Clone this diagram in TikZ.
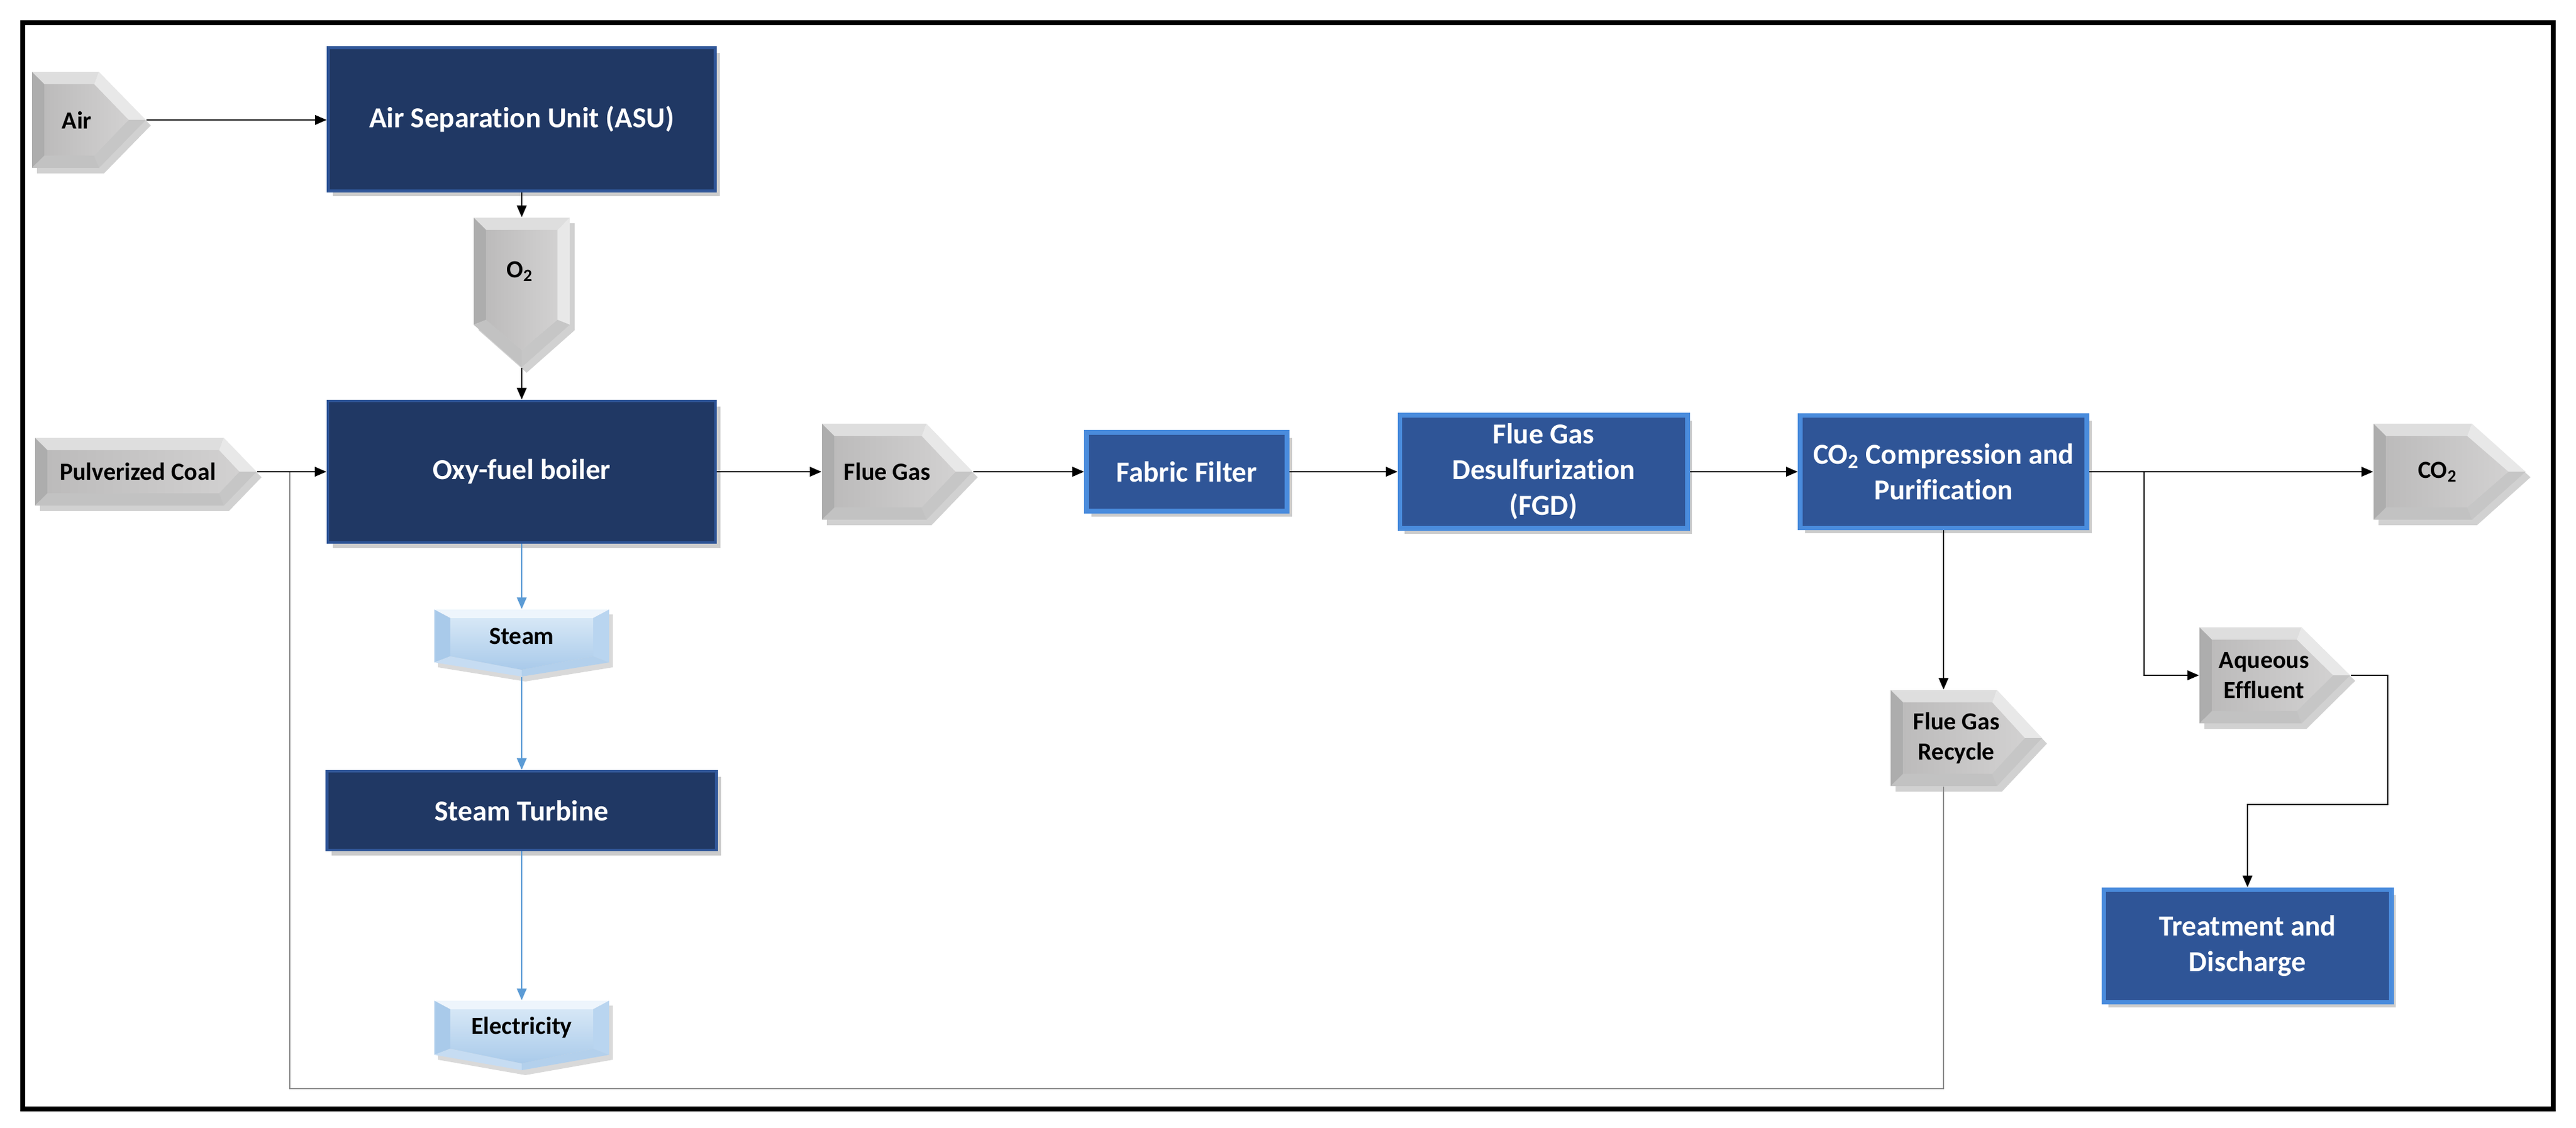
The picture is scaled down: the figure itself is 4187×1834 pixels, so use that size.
\documentclass[tikz,border=0pt]{standalone}
\usepackage{fontspec}
\setmainfont{Carlito}[Ligatures=NoCommon]
\usetikzlibrary{arrows.meta,shadows,calc}
\definecolor{navy}{HTML}{203864}
\definecolor{navyedge}{HTML}{2F5597}
\definecolor{midblue}{HTML}{2F5597}
\definecolor{midedge}{HTML}{4A8CDD}
\definecolor{flowblue}{HTML}{5B9BD5}
\definecolor{recgray}{HTML}{8C8C8C}
\definecolor{gTop}{HTML}{DEDEDE}
\definecolor{gUR}{HTML}{E8E8E8}
\definecolor{gLR}{HTML}{C6C6C6}
\definecolor{gBot}{HTML}{C2C2C2}
\definecolor{gLeft}{HTML}{ADADAD}
\definecolor{gCl}{HTML}{BCBBBB}
\definecolor{gCr}{HTML}{D2D1D1}
\definecolor{bTop}{HTML}{EEF5FC}
\definecolor{bLeft}{HTML}{A9CAEA}
\definecolor{bRight}{HTML}{B9D5F0}
\definecolor{bBotL}{HTML}{C6DCF2}
\definecolor{bBotR}{HTML}{B3D0EC}
\definecolor{bCt}{HTML}{D6E7F6}
\definecolor{bCb}{HTML}{A9CAEA}

% right-pointing grey pentagon: name, x0, y0, x-rect-right, y1, x-tip
\newcommand\PentR[6]{%
  \pgfmathsetmacro\pYm{(#3+#5)/2}%
  \pgfmathsetmacro\pXa{#2+20}%
  \pgfmathsetmacro\pYa{#3+20}%
  \pgfmathsetmacro\pYb{#5-20}%
  \pgfmathsetmacro\pXr{#4-8}%
  \pgfmathsetmacro\pXt{#6-28}%
  \pgfmathsetmacro\pXc{(#2+#6)/2}%
  \pgfmathsetmacro\pW{(#6-#2)/100}%
  \pgfmathsetmacro\pH{(#5-#3)/100}%
  \begin{scope}[shift={(8,9)}]
    \fill[black,opacity=0.18] (#2,#3) -- (#4,#3) -- (#6,\pYm) -- (#4,#5) -- (#2,#5) -- cycle;
  \end{scope}
  \fill[gTop] (#2,#3) -- (#4,#3) -- (\pXr,\pYa) -- (\pXa,\pYa) -- cycle;
  \fill[gUR] (#4,#3) -- (#6,\pYm) -- (\pXt,\pYm) -- (\pXr,\pYa) -- cycle;
  \fill[gLR] (#6,\pYm) -- (#4,#5) -- (\pXr,\pYb) -- (\pXt,\pYm) -- cycle;
  \fill[gBot] (#4,#5) -- (#2,#5) -- (\pXa,\pYb) -- (\pXr,\pYb) -- cycle;
  \fill[gLeft] (#2,#5) -- (#2,#3) -- (\pXa,\pYa) -- (\pXa,\pYb) -- cycle;
  \shade[left color=gCl,right color=gCr] (\pXa,\pYa) -- (\pXr,\pYa) -- (\pXt,\pYm) -- (\pXr,\pYb) -- (\pXa,\pYb) -- cycle;
  \node[inner sep=0pt, minimum width=\pW cm, minimum height=\pH cm] (#1) at (\pXc,\pYm) {};
}

% down-pointing light-blue chevron: name, x0, y0, x1, y-rect-bottom, y-tip
\newcommand\ChevD[6]{%
  \pgfmathsetmacro\cXm{(#2+#4)/2}%
  \pgfmathsetmacro\cXa{#2+26}%
  \pgfmathsetmacro\cXb{#4-26}%
  \pgfmathsetmacro\cYa{#3+14}%
  \pgfmathsetmacro\cYr{#5-10}%
  \pgfmathsetmacro\cYt{#6-11}%
  \pgfmathsetmacro\cYc{(#3+#6)/2}%
  \pgfmathsetmacro\cW{(#4-#2)/100}%
  \pgfmathsetmacro\cH{(#6-#3)/100}%
  \begin{scope}[shift={(6,8)}]
    \fill[black,opacity=0.15] (#2,#3) -- (#4,#3) -- (#4,#5) -- (\cXm,#6) -- (#2,#5) -- cycle;
  \end{scope}
  \fill[bTop] (#2,#3) -- (#4,#3) -- (\cXb,\cYa) -- (\cXa,\cYa) -- cycle;
  \fill[bLeft] (#2,#3) -- (\cXa,\cYa) -- (\cXa,\cYr) -- (#2,#5) -- cycle;
  \fill[bRight] (#4,#3) -- (#4,#5) -- (\cXb,\cYr) -- (\cXb,\cYa) -- cycle;
  \fill[bBotL] (#2,#5) -- (\cXa,\cYr) -- (\cXm,\cYt) -- (\cXm,#6) -- cycle;
  \fill[bBotR] (#4,#5) -- (\cXm,#6) -- (\cXm,\cYt) -- (\cXb,\cYr) -- cycle;
  \shade[top color=bCt,bottom color=bCb] (\cXa,\cYa) -- (\cXb,\cYa) -- (\cXb,\cYr) -- (\cXm,\cYt) -- (\cXa,\cYr) -- cycle;
  \node[inner sep=0pt, minimum width=\cW cm, minimum height=\cH cm] (#1) at (\cXm,\cYc) {};
}

\tikzset{
  boxshadow/.style={drop shadow={shadow xshift=2.2pt, shadow yshift=-2.5pt, opacity=0.2, fill=black}},
  darkbox/.style={draw=navyedge, line width=1.3pt, fill=navy, text=white,
    font=\bfseries\fontsize{13.4}{16.5}\selectfont, align=center, inner sep=0pt, boxshadow},
  midbox/.style={draw=midedge, line width=2.2pt, fill=midblue, text=white,
    font=\bfseries\fontsize{13.4}{16.5}\selectfont, align=center, inner sep=0pt, boxshadow},
  lbl/.style={font=\bfseries\fontsize{11.4}{14}\selectfont, align=center, inner sep=0pt, text=black},
  arr/.style={draw=black, line width=0.8pt, -{Triangle[length=5.4pt,width=4.4pt]}},
  barr/.style={draw=flowblue, line width=0.8pt, -{Triangle[length=5.4pt,width=4.4pt]}},
  recy/.style={draw=recgray, line width=0.7pt},
}

\begin{document}
\begin{tikzpicture}[x=0.01cm, y=-0.01cm]
\useasboundingbox (0,0) rectangle (4187,1834);
\fill[white] (0,0) rectangle (4187,1834);
\draw[line width=2.2pt] (37,37) rectangle (4150,1803);

% process boxes
\node[darkbox, minimum width=6.29cm, minimum height=2.33cm] (asu) at (848,194) {Air Separation Unit (ASU)};
\node[darkbox, minimum width=6.30cm, minimum height=2.30cm] (boiler) at (848,767) {Oxy-fuel boiler};
\node[darkbox, minimum width=6.33cm, minimum height=1.28cm] (turb) at (848,1318) {Steam Turbine};
\node[midbox, minimum width=3.26cm, minimum height=1.28cm] (ff) at (1929,767) {Fabric Filter};
\node[midbox, minimum width=4.67cm, minimum height=1.84cm] (fgd) at (2509,767) {Flue Gas\\Desulfurization\\(FGD)};
\node[midbox, minimum width=4.66cm, minimum height=1.83cm] (cp) at (3159,767) {CO\textsubscript{2} Compression and\\Purification};
\node[midbox, minimum width=4.67cm, minimum height=1.83cm] (treat) at (3653,1538) {Treatment and\\Discharge};

% grey stream pentagons
\PentR{air}{52}{117}{161}{273}{237}
\node[lbl] (airT) at (125,195) {Air};
\PentR{coal}{57}{712}{364}{822}{417}
\node[lbl] (coalT) at (224,767) {Pulverized Coal};
\PentR{flue}{1336}{689}{1506}{845}{1581}
\node[lbl] (flueT) at (1442,767) {Flue Gas};
\PentR{co2}{3858}{689}{4018}{845}{4105}
\node[lbl] (co2T) at (3962,767) {CO\textsubscript{2}};
\PentR{aq}{3575}{1020}{3741}{1176}{3820}
\node[lbl] (aqT) at (3680,1098) {Aqueous\\Effluent};
\PentR{fgr}{3073}{1122}{3246}{1278}{3319}
\node[lbl] (fgrT) at (3180,1200) {Flue Gas\\Recycle};

% O2 down chevron
\begin{scope}[shift={(8,9)}]
  \fill[black,opacity=0.18] (770,354) -- (926,354) -- (926,528) -- (848,597) -- (770,528) -- cycle;
\end{scope}
\fill[gTop] (770,354) -- (926,354) -- (906,374) -- (790,374) -- cycle;
\fill[gLeft] (770,354) -- (790,374) -- (790,520) -- (770,528) -- cycle;
\fill[gUR] (926,354) -- (926,528) -- (906,520) -- (906,374) -- cycle;
\fill[gBot] (770,528) -- (790,520) -- (848,569) -- (848,597) -- cycle;
\fill[gLR] (926,528) -- (848,597) -- (848,569) -- (906,520) -- cycle;
\shade[left color=gCl,right color=gCr] (790,374) -- (906,374) -- (906,520) -- (848,569) -- (790,520) -- cycle;
\node[inner sep=0pt, minimum width=1.56cm, minimum height=2.43cm] (o2) at (848,475.5) {};
\node[lbl] (o2T) at (845,441) {O\textsubscript{2}};

% light-blue chevrons
\ChevD{steam}{706}{991}{990}{1077}{1100}
\node[lbl] (steamT) at (848,1034) {Steam};
\ChevD{elec}{706}{1627}{990}{1715}{1740}
\node[lbl] (elecT) at (848,1671) {Electricity};

% connectors
\draw[arr] (air.east) -- (air.east -| asu.west);
\draw[arr] (asu.south) -- (o2.north);
\draw[arr] (o2.south) -- (boiler.north);
\coordinate (rcl) at (471,1770);
\draw[recy] (cp.south |- fgr.south) |- (rcl) -- (coal.east -| rcl);
\draw[arr] (coal.east) -- (boiler.west);
\draw[arr] (boiler.east) -- (flue.west);
\draw[arr] (flue.east) -- (ff.west);
\draw[arr] (ff.east) -- (fgd.west);
\draw[arr] (fgd.east) -- (cp.west);
\draw[arr] (cp.east) -- (co2.west);
\coordinate (jn) at (3485,767);
\draw[arr] (jn) |- (aq.west);
\coordinate (ebend) at (3881,1308);
\draw[arr] (aq.east) -| (ebend) -| (treat.north);
\draw[arr] (cp.south) -- (cp.south |- fgr.north);
\draw[barr] (boiler.south) -- (steam.north);
\draw[barr] (steam.south) -- (turb.north);
\draw[barr] (turb.south) -- (elec.north);
\end{tikzpicture}
\end{document}
